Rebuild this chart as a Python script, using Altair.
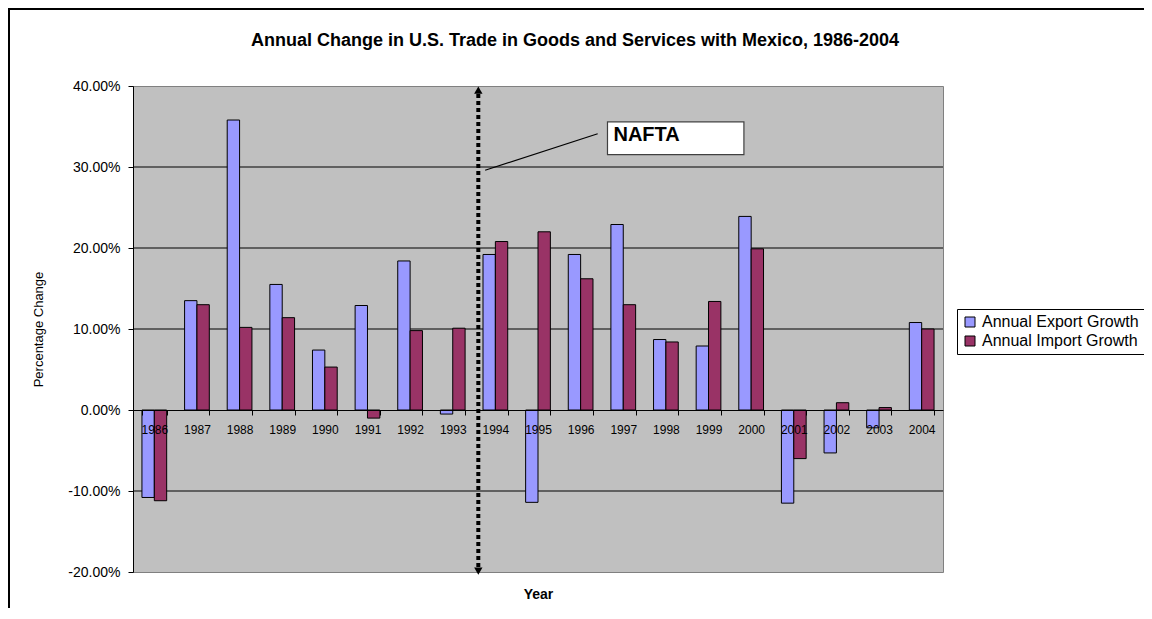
import altair as alt
import pandas as pd

# ---- data ----
years = ["1986", "1987", "1988", "1989", "1990", "1991", "1992", "1993", "1994", "1995",
         "1996", "1997", "1998", "1999", "2000", "2001", "2002", "2003", "2004"]
export_growth = [-10.8, 13.5, 35.8, 15.5, 7.4, 12.9, 18.4, -0.5, 19.2, -11.4,
                 19.2, 22.9, 8.7, 7.9, 23.9, -11.5, -5.3, -2.2, 10.8]
import_growth = [-11.2, 13.0, 10.2, 11.4, 5.3, -1.0, 9.8, 10.1, 20.8, 22.0,
                 16.2, 13.0, 8.4, 13.4, 19.9, -6.0, 0.9, 0.3, 10.0]
series_names = ["Annual Export Growth", "Annual Import Growth"]
series_colors = ["#9999FF", "#993366"]
y_ticks = [-0.2, -0.1, 0.0, 0.1, 0.2, 0.3, 0.4]
grid_vals = [-0.1, 0.1, 0.2, 0.3]
title_text = "Annual Change in U.S. Trade in Goods and Services with Mexico, 1986-2004"

# annotation (x in category-index units, y in data units)
nafta_x = [8.1]
nafta_y_top = [0.39]
nafta_y_bottom = [-0.195]
head_y = [0.395, -0.199]
head_shape = ["up", "down"]
leader_x = [8.26]
leader_x2 = [10.9]
leader_y = [0.296]
leader_y2 = [0.341]
box_x = [11.13]
box_x2 = [14.33]
box_y = [0.3154]
box_y2 = [0.3558]
label_x = [11.27]
label_y = [0.332]
label_text = ["NAFTA"]

FONT = "Liberation Sans"
W, H = 810, 486

rows = []
for i, yr in enumerate(years):
    rows.append({"Year": yr, "Series": series_names[0], "Value": export_growth[i] / 100})
    rows.append({"Year": yr, "Series": series_names[1], "Value": import_growth[i] / 100})
df = pd.DataFrame(rows)

yscale = alt.Scale(domain=[-0.2, 0.4], nice=False, zero=False)
ascale = alt.Scale(domain=[0, 19], nice=False, zero=False)

yaxis = alt.Axis(values=y_ticks, title="Percentage Change",
                 labelExpr="replace(format(datum.value, '.2%'), '\u2212', '-')",
                 labelFontSize=14, labelColor="black", labelPadding=8,
                 tickSize=5, tickColor="black", domainColor="black", grid=False,
                 titleFontSize=13, titleFontWeight="normal", titleColor="black",
                 titleX=-95, titleY=243, titleAngle=-90, titleAlign="center",
                 titleBaseline="middle")


def Y(field):
    return alt.Y(field, scale=yscale, axis=yaxis, title="Percentage Change")


def AX(field):
    return alt.X(field, scale=ascale, axis=None)


grid = alt.Chart(pd.DataFrame({"v": grid_vals})).mark_rule(color="black", strokeWidth=1).encode(
    y=Y("v:Q")
)

bars = alt.Chart(df).mark_bar(stroke="black", strokeWidth=1).encode(
    x=alt.X("Year:N", sort=years,
            scale=alt.Scale(domain=years, paddingInner=0.42, paddingOuter=0.21),
            axis=alt.Axis(title="Year", orient="bottom", offset=-162, tickBand="extent",
                          zindex=1,
                          labelAngle=0, labelFontSize=12, labelColor="black", labelPadding=9,
                          tickSize=5, tickColor="black", domainColor="black", grid=False,
                          titleFontSize=14, titleFontWeight="bold", titleColor="black",
                          titleY=184.5, titleBaseline="middle")),
    xOffset=alt.XOffset("Series:N", sort=series_names,
                        scale=alt.Scale(domain=series_names, paddingInner=0, paddingOuter=0)),
    y=Y("Value:Q"),
    color=alt.Color("Series:N", scale=alt.Scale(domain=series_names, range=series_colors),
                    legend=alt.Legend(title=None, orient="none", legendX=824, legendY=223,
                                      labelFontSize=16, labelColor="black", labelOffset=4,
                                      symbolType="square", symbolSize=100,
                                      symbolStrokeColor="black", symbolStrokeWidth=1,
                                      symbolOpacity=1,
                                      strokeColor="black", fillColor="white",
                                      padding=5, rowPadding=3, cornerRadius=0)),
)

dotted = alt.Chart(pd.DataFrame({"x": nafta_x, "y": nafta_y_top, "y2": nafta_y_bottom})).mark_rule(
    color="black", strokeWidth=4, strokeDash=[4, 3]
).encode(x=AX("x:Q"), y=Y("y:Q"), y2="y2:Q")

heads = alt.Chart(pd.DataFrame({"x": nafta_x * 2, "y": head_y, "s": head_shape})).mark_point(
    filled=True, color="black", size=70, opacity=1
).encode(
    x=AX("x:Q"), y=Y("y:Q"),
    shape=alt.Shape("s:N", scale=alt.Scale(domain=["up", "down"],
                                           range=["triangle-up", "triangle-down"]), legend=None),
)

leader = alt.Chart(pd.DataFrame({"x": leader_x, "x2": leader_x2, "y": leader_y, "y2": leader_y2})).mark_rule(
    color="black", strokeWidth=1.2
).encode(x=AX("x:Q"), x2="x2:Q", y=Y("y:Q"), y2="y2:Q")

box = alt.Chart(pd.DataFrame({"x": box_x, "x2": box_x2, "y": box_y, "y2": box_y2})).mark_rect(
    fill="white", stroke="#404040", strokeWidth=1.2
).encode(x=AX("x:Q"), x2="x2:Q", y=Y("y:Q"), y2="y2:Q")

label = alt.Chart(pd.DataFrame({"x": label_x, "y": label_y, "t": label_text})).mark_text(
    align="left", baseline="alphabetic", fontSize=20, fontWeight="bold", color="black", font=FONT
).encode(x=AX("x:Q"), y=Y("y:Q"), text="t:N")

one = pd.DataFrame({"t": [title_text]})
title = alt.Chart(one).mark_text(
    align="center", baseline="alphabetic", fontSize=18, fontWeight="bold", color="black", font=FONT
).encode(x=alt.value(442), y=alt.value(-40.5), text="t:N")

border_v = alt.Chart(one).mark_rule(color="black", strokeWidth=2).encode(
    x=alt.value(-124), y=alt.value(-78), y2=alt.value(522)
)
border_h = alt.Chart(one).mark_rule(color="black", strokeWidth=2).encode(
    x=alt.value(-125), x2=alt.value(1011), y=alt.value(-77)
)

chart = alt.layer(
    grid, bars, dotted, heads, leader, box, label, title, border_v, border_h
).resolve_scale(
    x="independent"
).properties(
    width=W, height=H,
    autosize=alt.AutoSizeParams(type="none"),
    padding={"left": 125, "top": 78, "right": 201, "bottom": 36},
).configure(
    font=FONT, background="white"
).configure_view(
    fill="#C0C0C0", stroke="#808080", strokeWidth=1
)

chart.save("out.html", embed_options={"renderer": "svg", "actions": False})
